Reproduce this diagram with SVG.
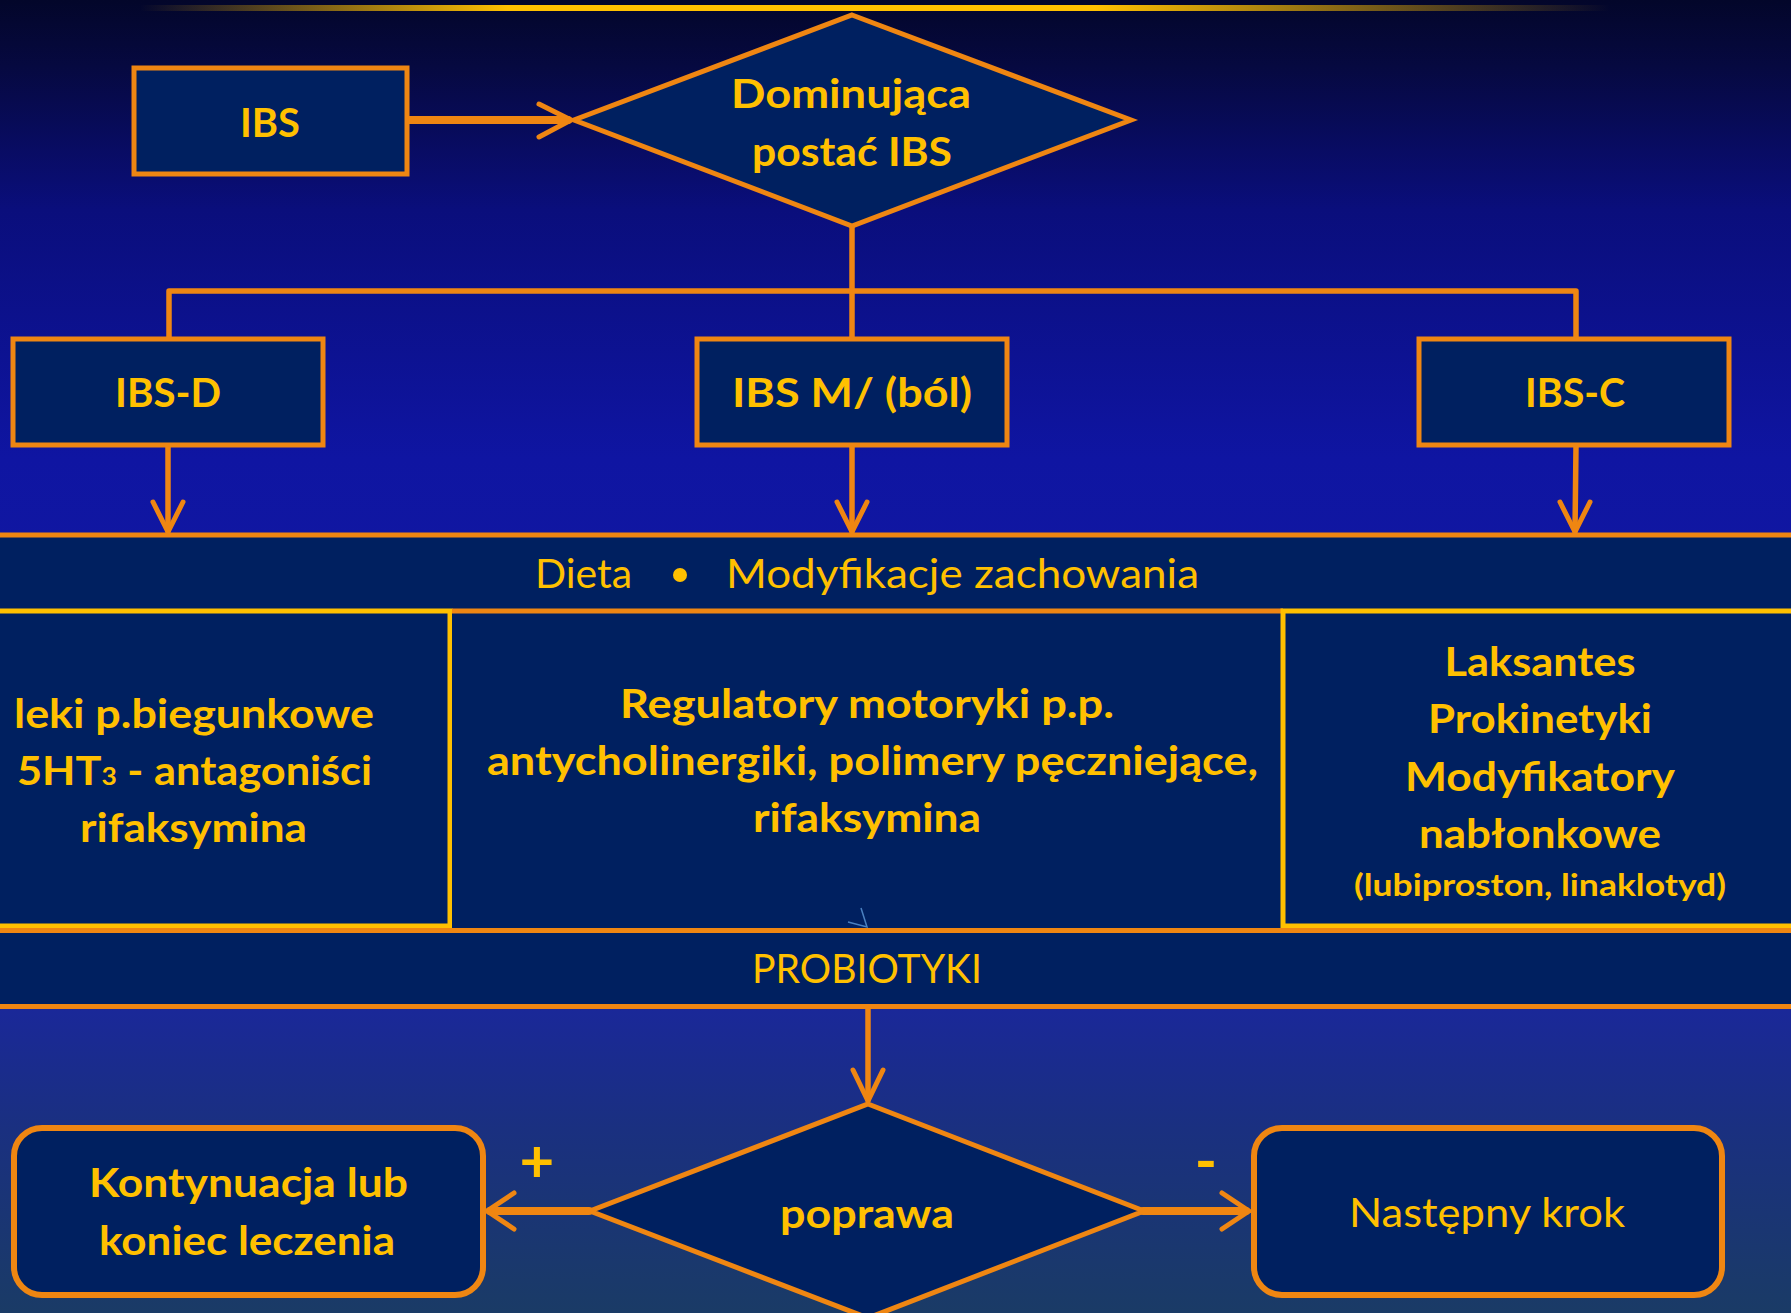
<svg xmlns="http://www.w3.org/2000/svg" width="1791" height="1313" viewBox="0 0 1791 1313">
<defs>
<linearGradient id="bg" x1="0" y1="0" x2="0" y2="1313" gradientUnits="userSpaceOnUse">
<stop offset="0" stop-color="#03062a"/>
<stop offset="0.05" stop-color="#060940"/>
<stop offset="0.16" stop-color="#0a0e7c"/>
<stop offset="0.35" stop-color="#0f15a2"/>
<stop offset="0.6" stop-color="#141ba0"/>
<stop offset="0.77" stop-color="#1a2898"/>
<stop offset="0.86" stop-color="#1a3080"/>
<stop offset="1" stop-color="#1a3b66"/>
</linearGradient>
<linearGradient id="goldline" x1="140" y1="0" x2="1610" y2="0" gradientUnits="userSpaceOnUse">
<stop offset="0" stop-color="#ffc000" stop-opacity="0"/>
<stop offset="0.25" stop-color="#ffc000" stop-opacity="1"/>
<stop offset="0.65" stop-color="#ffc000" stop-opacity="1"/>
<stop offset="1" stop-color="#ffc000" stop-opacity="0"/>
</linearGradient>
<style>
.box{fill:#002060;stroke:#ef8612;stroke-width:5;stroke-linejoin:miter}
.rbox{fill:#002060;stroke:#ef8612;stroke-width:6}
.band{fill:#002060}
.ol{stroke:#ef8612;stroke-width:5;fill:none}
.yl{stroke:#ffc000;stroke-width:5;fill:none}
.con{stroke:#ef8612;stroke-width:5.5;fill:none;stroke-linejoin:round;stroke-linecap:round}
.thick{stroke-width:8}
.head{stroke:#ef8612;stroke-width:5;fill:none;stroke-linejoin:round;stroke-linecap:round}
.b{font-family:Lato,Carlito,"Open Sans",sans-serif;font-weight:700;font-size:41px;fill:#ffc000;text-anchor:middle}
.r{font-family:Lato,Carlito,"Open Sans",sans-serif;font-weight:400;font-size:41px;fill:#ffc000;text-anchor:middle}
.s{font-size:31px}
.sign{font-size:60px}
</style>
</defs>
<rect x="0" y="0" width="1791" height="1313" fill="url(#bg)"/>
<rect x="140" y="5" width="1470" height="6" fill="url(#goldline)"/>

<g id="band-diet">
<rect class="band" x="0" y="535" width="1791" height="76"/>
<line class="ol" x1="0" y1="535" x2="1791" y2="535"/>
<text class="r" x="583.5" y="588" textLength="97" lengthAdjust="spacingAndGlyphs">Dieta</text>
<circle cx="680" cy="575" r="7" fill="#ffc000"/>
<text class="r" x="962.5" y="588" textLength="473" lengthAdjust="spacingAndGlyphs">Modyfikacje zachowania</text>
</g>

<g id="cell-ibs-d">
<rect class="band" x="0" y="611" width="452" height="317"/>
<polyline class="yl" points="0,611 450,611 450,926 0,926"/>
<text class="b" x="194" y="728" textLength="360" lengthAdjust="spacingAndGlyphs">leki p.biegunkowe</text>
<text class="b" x="194.5" y="785" textLength="355" lengthAdjust="spacingAndGlyphs">5HT<tspan style="font-size:25px">3</tspan> - antagoniści</text>
<text class="b" x="193.5" y="842" textLength="227" lengthAdjust="spacingAndGlyphs">rifaksymina</text>
</g>

<g id="cell-ibs-m">
<rect class="band" x="452" y="611" width="831" height="317"/>
<line class="ol" x1="452" y1="611" x2="1283" y2="611"/>
<text class="b" x="867" y="718" textLength="494" lengthAdjust="spacingAndGlyphs">Regulatory motoryki p.p.</text>
<text class="b" x="872.5" y="775" textLength="771" lengthAdjust="spacingAndGlyphs">antycholinergiki, polimery pęczniejące,</text>
<text class="b" x="867" y="832" textLength="228" lengthAdjust="spacingAndGlyphs">rifaksymina</text>
<polyline points="861,908 867,927 848,922" fill="none" stroke="#4a80c0" stroke-width="1.5"/>
</g>

<g id="cell-ibs-c">
<rect class="band" x="1283" y="611" width="508" height="317"/>
<polyline class="yl" points="1791,611 1283,611 1283,926 1791,926"/>
<text class="b" x="1540" y="676" textLength="191" lengthAdjust="spacingAndGlyphs">Laksantes</text>
<text class="b" x="1540" y="733" textLength="224" lengthAdjust="spacingAndGlyphs">Prokinetyki</text>
<text class="b" x="1540" y="791" textLength="270" lengthAdjust="spacingAndGlyphs">Modyfikatory</text>
<text class="b" x="1540" y="848" textLength="242" lengthAdjust="spacingAndGlyphs">nabłonkowe</text>
<text class="b s" x="1540" y="896" textLength="372" lengthAdjust="spacingAndGlyphs">(lubiproston, linaklotyd)</text>
</g>

<g id="band-probiotyki">
<rect class="band" x="0" y="931" width="1791" height="75"/>
<line class="ol" x1="0" y1="930.5" x2="1791" y2="930.5"/>
<line class="ol" x1="0" y1="1006.5" x2="1791" y2="1006.5"/>
<text class="r" x="867" y="983" textLength="230" lengthAdjust="spacingAndGlyphs">PROBIOTYKI</text>
</g>

<g id="connectors">
<line class="con thick" x1="408" y1="120" x2="568" y2="120"/>
<polyline class="head" points="539,104 571,120 539,137"/>
<polyline class="con" points="852,227 852,291"/>
<polyline class="con" points="169,338 169,291 1576,291 1576,338"/>
<line class="con" x1="852" y1="291" x2="852" y2="338"/>
<line class="con" x1="168" y1="446" x2="168" y2="531"/>
<polyline class="head" points="153,502 168,532 183,502"/>
<line class="con" x1="852" y1="446" x2="852" y2="531"/>
<polyline class="head" points="837,502 852,532 867,502"/>
<line class="con" x1="1576" y1="446" x2="1575" y2="531"/>
<polyline class="head" points="1560,502 1575,532 1590,502"/>
<line class="con" x1="868" y1="1009" x2="868" y2="1100"/>
<polyline class="head" points="853,1070 868,1101 883,1070"/>
<line class="con thick" x1="589" y1="1211" x2="490" y2="1211"/>
<polyline class="head" points="514,1193 487,1211 514,1229"/>
<line class="con thick" x1="1143" y1="1211" x2="1246" y2="1211"/>
<polyline class="head" points="1222,1193 1249,1211 1222,1229"/>
<text class="b sign" x="537" y="1182">+</text>
<text class="b sign" x="1206" y="1182">-</text>
</g>

<g id="node-ibs">
<rect class="box" x="134" y="68" width="273" height="106"/>
<text class="b" x="270" y="137" textLength="60" lengthAdjust="spacingAndGlyphs">IBS</text>
</g>

<g id="node-dominujaca">
<polygon class="box" points="852,15 1131,120 852,226 574,120"/>
<text class="b" x="851" y="108" textLength="240" lengthAdjust="spacingAndGlyphs">Dominująca</text>
<text class="b" x="852" y="166" textLength="200" lengthAdjust="spacingAndGlyphs">postać IBS</text>
</g>

<g id="node-ibs-d">
<rect class="box" x="13" y="339" width="310" height="106"/>
<text class="b" x="168" y="407" textLength="106" lengthAdjust="spacingAndGlyphs">IBS-D</text>
</g>

<g id="node-ibs-m">
<rect class="box" x="697" y="339" width="310" height="106"/>
<text class="b" x="852" y="407" textLength="240" lengthAdjust="spacingAndGlyphs">IBS M/ (ból)</text>
</g>

<g id="node-ibs-c">
<rect class="box" x="1419" y="339" width="310" height="106"/>
<text class="b" x="1575" y="407" textLength="100" lengthAdjust="spacingAndGlyphs">IBS-C</text>
</g>

<g id="node-poprawa">
<polygon class="box" points="868,1104 1144,1211 868,1318 590,1211"/>
<text class="b" x="867" y="1228" textLength="174" lengthAdjust="spacingAndGlyphs">poprawa</text>
</g>

<g id="node-kontynuacja">
<rect class="rbox" x="14" y="1128" width="469" height="167" rx="28"/>
<text class="b" x="248.5" y="1197" textLength="319" lengthAdjust="spacingAndGlyphs">Kontynuacja lub</text>
<text class="b" x="247" y="1255" textLength="296" lengthAdjust="spacingAndGlyphs">koniec leczenia</text>
</g>

<g id="node-nastepny">
<rect class="rbox" x="1254" y="1128" width="468" height="167" rx="28"/>
<text class="r" x="1487" y="1227" textLength="276" lengthAdjust="spacingAndGlyphs">Następny krok</text>
</g>
</svg>
